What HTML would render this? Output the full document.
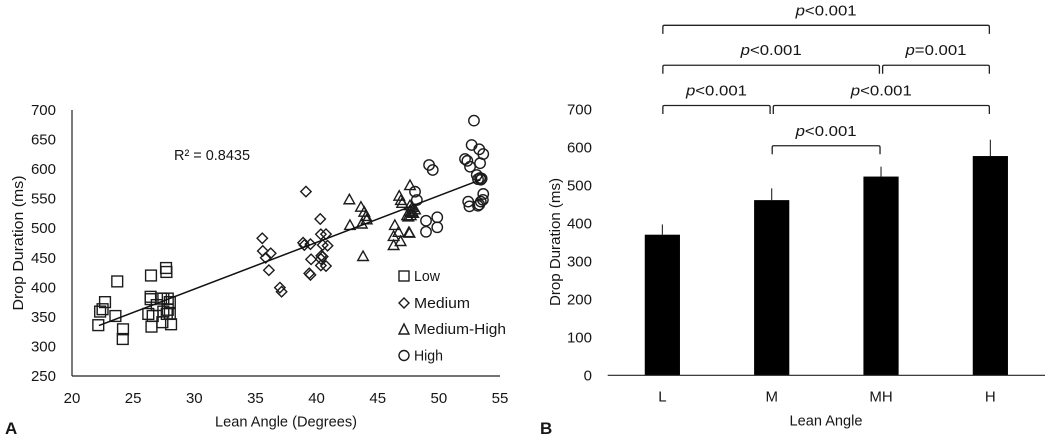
<!DOCTYPE html>
<html lang="en">
<head>
<meta charset="utf-8">
<title>Drop duration by lean angle</title>
<style>
html,body{margin:0;padding:0;background:#fff;width:1050px;height:438px;overflow:hidden}
svg{display:block}
text{font-family:"Liberation Sans",sans-serif;font-size:15px;fill:#161616}
.mk{fill:none;stroke:#1c1c1c;stroke-width:1.4}
.ax{stroke:#222;stroke-width:1.2;fill:none}
.br{stroke:#222;stroke-width:1.3;fill:none}
</style>
</head>
<body>
<svg id="figure" xmlns="http://www.w3.org/2000/svg" width="1050" height="438" viewBox="0 0 1050 438">
  <rect x="0" y="0" width="1050" height="438" fill="#fff"/>
  <g id="panelA">
    <line class="ax" x1="72" y1="110" x2="72" y2="376"/>
    <line class="ax" x1="72" y1="376" x2="500" y2="376"/>
    <g id="aTicks"></g>
    <text transform="translate(23,243) rotate(-90)" text-anchor="middle" textLength="135" lengthAdjust="spacingAndGlyphs">Drop Duration (ms)</text>
    <text x="286" y="426.5" text-anchor="middle" textLength="142" lengthAdjust="spacingAndGlyphs">Lean Angle (Degrees)</text>
    <text x="174" y="160" textLength="76" lengthAdjust="spacingAndGlyphs">R² = 0.8435</text>
    <g id="aMarks"></g>
    <line id="trend" class="ax" style="stroke:#111;stroke-width:1.5"/>
    <g>
      <rect class="mk" x="399" y="271" width="10" height="10"/>
      <text x="414" y="281" textLength="26" lengthAdjust="spacingAndGlyphs">Low</text>
      <path class="mk" d="M404 298 L409 303 L404 308 L399 303 Z"/>
      <text x="414" y="308" textLength="56" lengthAdjust="spacingAndGlyphs">Medium</text>
      <path class="mk" d="M404 324 L409 334 L399 334 Z"/>
      <text x="414" y="334" textLength="92" lengthAdjust="spacingAndGlyphs">Medium-High</text>
      <circle class="mk" cx="404" cy="355.5" r="5"/>
      <text x="414" y="360.5" textLength="29" lengthAdjust="spacingAndGlyphs">High</text>
    </g>
    <text x="5" y="434" style="font-size:17px;font-weight:bold">A</text>
  </g>
  <g id="panelB">
    <g id="bTicks"></g>
    <g id="bBars"></g>
    <line class="ax" x1="607.7" y1="375.3" x2="1045" y2="375.3"/>
    <g id="bBrackets"></g>
    <text transform="translate(560,242) rotate(-90)" text-anchor="middle" textLength="128" lengthAdjust="spacingAndGlyphs">Drop Duration (ms)</text>
    <text x="826" y="425.5" text-anchor="middle" textLength="73" lengthAdjust="spacingAndGlyphs">Lean Angle</text>
    <text x="540" y="434" style="font-size:17px;font-weight:bold">B</text>
  </g>
</svg>
<script>
// Panel A data
const scatterXTicks = [20, 25, 30, 35, 40, 45, 50, 55];
const scatterYTicks = [250, 300, 350, 400, 450, 500, 550, 600, 650, 700];
const lowAngle = [22.15, 22.3, 22.5, 22.7, 23.55, 23.7, 24.17, 24.15, 26.46, 26.43, 26.43, 26.24, 26.6, 26.5, 26.93, 27.28, 27.47, 27.39, 27.47, 27.69, 27.72, 27.83, 28.0, 27.83, 28.0, 27.75, 28.1];
const lowDuration = [336, 359, 363, 375, 351.5, 410, 329, 312.6, 420, 384, 380, 355, 351.5, 333.5, 370, 381, 381, 341, 359, 432.7, 426, 381, 375, 362, 355, 355, 337.5];
const mediumAngle = [35.56, 35.6, 35.84, 36.25, 36.1, 37.0, 37.14, 39.13, 38.9, 39.0, 39.5, 39.55, 39.4, 39.5, 40.3, 40.35, 40.77, 40.9, 40.5, 40.39, 40.5, 40.35, 40.35, 40.77];
const mediumDuration = [483, 461.5, 450, 457.6, 429, 399.5, 392.6, 562, 475.5, 471.6, 473, 447.4, 423.7, 421, 515.6, 489.7, 490, 470.4, 471.6, 453.5, 452, 448, 437, 436];
const mediumHighAngle = [42.68, 43.63, 43.9, 44.04, 44.1, 42.73, 43.7, 43.8, 46.76, 46.9, 47.0, 47.64, 46.4, 46.7, 46.3, 46.87, 46.3, 47.6, 47.55, 47.64, 47.83, 48.05, 47.6, 47.4, 47.76, 47.5, 47.9, 47.7];
const mediumHighDuration = [549, 536.4, 528, 520.7, 515, 505.5, 508, 453, 555, 547.8, 543, 573, 505.5, 494, 487, 478.4, 471.6, 492.4, 493.4, 539, 536, 532, 529, 522, 528, 520, 526, 522];
const highAngle = [52.87, 52.68, 53.3, 53.63, 53.37, 52.14, 52.33, 52.55, 53.1, 53.2, 53.37, 53.43, 53.5, 53.63, 53.6, 53.43, 53.3, 53.2, 52.4, 52.5, 49.2, 49.5, 48.05, 48.2, 48.95, 49.87, 48.95, 49.87];
const highDuration = [682, 640.8, 633.5, 625.5, 610, 617, 614, 604, 590, 583, 585, 582, 584, 558, 548, 545, 540, 538, 545, 537, 607, 598.5, 561.8, 547.7, 512.7, 518.5, 494, 501.6];
const trendAngle = [22.2, 53.4];
const trendDuration = [335.4, 581.9];

// Panel B data
const barCategories = ['L', 'M', 'MH', 'H'];
const barValues = [370, 461, 523, 577];
const barErrors = [27, 31, 26, 43];
const barYTicks = [0, 100, 200, 300, 400, 500, 600, 700];
const bracketFrom = [0, 0, 2, 0, 1, 1];
const bracketTo = [3, 2, 3, 1, 3, 2];
const bracketLevel = [921, 816, 816, 710, 710, 604];
const bracketLabels = ['p<0.001', 'p<0.001', 'p=0.001', 'p<0.001', 'p<0.001', 'p<0.001'];

const NS = 'http://www.w3.org/2000/svg';
const sx = v => 72 + (v - 20) * 428 / 35;
const sy = v => 376 - (v - 250) * 266 / 450;
const by = v => 375.3 - v * 0.38;
const bx = i => 607.7 + 109.33 * (i + 0.5);

function make(tag, attrs, parent) {
  const el = document.createElementNS(NS, tag);
  for (const k in attrs) el.setAttribute(k, attrs[k]);
  parent.appendChild(el);
  return el;
}

const aTicks = document.getElementById('aTicks');
const aMarks = document.getElementById('aMarks');
const bTicks = document.getElementById('bTicks');
const bBars = document.getElementById('bBars');
const bBrackets = document.getElementById('bBrackets');

scatterXTicks.forEach(t => {
  const el = make('text', {x: sx(t), y: 403, 'text-anchor': 'middle'}, aTicks);
  
  
  el.textContent = t;
});
scatterYTicks.forEach(t => {
  const el = make('text', {x: 56, y: sy(t) + 5, 'text-anchor': 'end'}, aTicks);
  
  
  el.textContent = t;
});

lowAngle.forEach((a, i) => {
  const x = sx(a), y = sy(lowDuration[i]);
  const el = make('rect', {class: 'mk', x: x - 5.4, y: y - 5.4, width: 10.8, height: 10.8}, aMarks);
  
  
});
mediumAngle.forEach((a, i) => {
  const x = sx(a), y = sy(mediumDuration[i]), r = 5.2;
  const el = make('path', {class: 'mk', d: `M${x} ${y - r}L${x + r} ${y}L${x} ${y + r}L${x - r} ${y}Z`}, aMarks);
  
  
});
mediumHighAngle.forEach((a, i) => {
  const x = sx(a), y = sy(mediumHighDuration[i]);
  const el = make('path', {class: 'mk', d: `M${x} ${y - 5}L${x + 5.3} ${y + 4.5}L${x - 5.3} ${y + 4.5}Z`}, aMarks);
  
  
});
highAngle.forEach((a, i) => {
  const el = make('circle', {class: 'mk', cx: sx(a), cy: sy(highDuration[i]), r: 5.2}, aMarks);
  
  
});

const trend = document.getElementById('trend');
trend.setAttribute('x1', sx(trendAngle[0]));
trend.setAttribute('y1', sy(trendDuration[0]));
trend.setAttribute('x2', sx(trendAngle[1]));
trend.setAttribute('y2', sy(trendDuration[1]));

barYTicks.forEach(t => {
  const el = make('text', {x: 592, y: by(t) + 5, 'text-anchor': 'end'}, bTicks);
  
  
  el.textContent = t;
});
barCategories.forEach((c, i) => {
  const label = make('text', {x: bx(i), y: 401.5, 'text-anchor': 'middle'}, bTicks);
  
  
  label.textContent = c;

  const bar = make('rect', {x: bx(i) - 17.6, y: by(barValues[i]), width: 35.2, height: barValues[i] * 0.38, fill: '#000'}, bBars);
  
  

  const err = make('line', {x1: bx(i), x2: bx(i), y1: by(barValues[i]), y2: by(barValues[i] + barErrors[i]), stroke: '#222', 'stroke-width': 1.1}, bBars);
  
  
});

bracketFrom.forEach((f, i) => {
  const t = bracketTo[i], lvl = bracketLevel[i];
  const touchesLeft = bracketTo.some((o, j) => j !== i && o === f && bracketLevel[j] === lvl);
  const touchesRight = bracketFrom.some((o, j) => j !== i && o === t && bracketLevel[j] === lvl);
  const x1 = bx(f) + (touchesLeft ? 1.6 : 0.5);
  const x2 = bx(t) - (touchesRight ? 1.6 : 1);
  const y = by(lvl);
  const path = make('path', {class: 'br', d: `M${x1} ${y + 8.5}V${y + 1.5}Q${x1} ${y} ${x1 + 1.5} ${y}H${x2 - 1.5}Q${x2} ${y} ${x2} ${y + 1.5}V${y + 8.5}`}, bBrackets);
  
  

  const label = make('text', {x: (x1 + x2) / 2, y: y - 10, 'text-anchor': 'middle', textLength: 61, lengthAdjust: 'spacingAndGlyphs'}, bBrackets);
  
  
  const ital = make('tspan', {'font-style': 'italic'}, label);
  ital.textContent = bracketLabels[i].charAt(0);
  const rest = make('tspan', {}, label);
  rest.textContent = bracketLabels[i].slice(1);
});
</script>
</body>
</html>
